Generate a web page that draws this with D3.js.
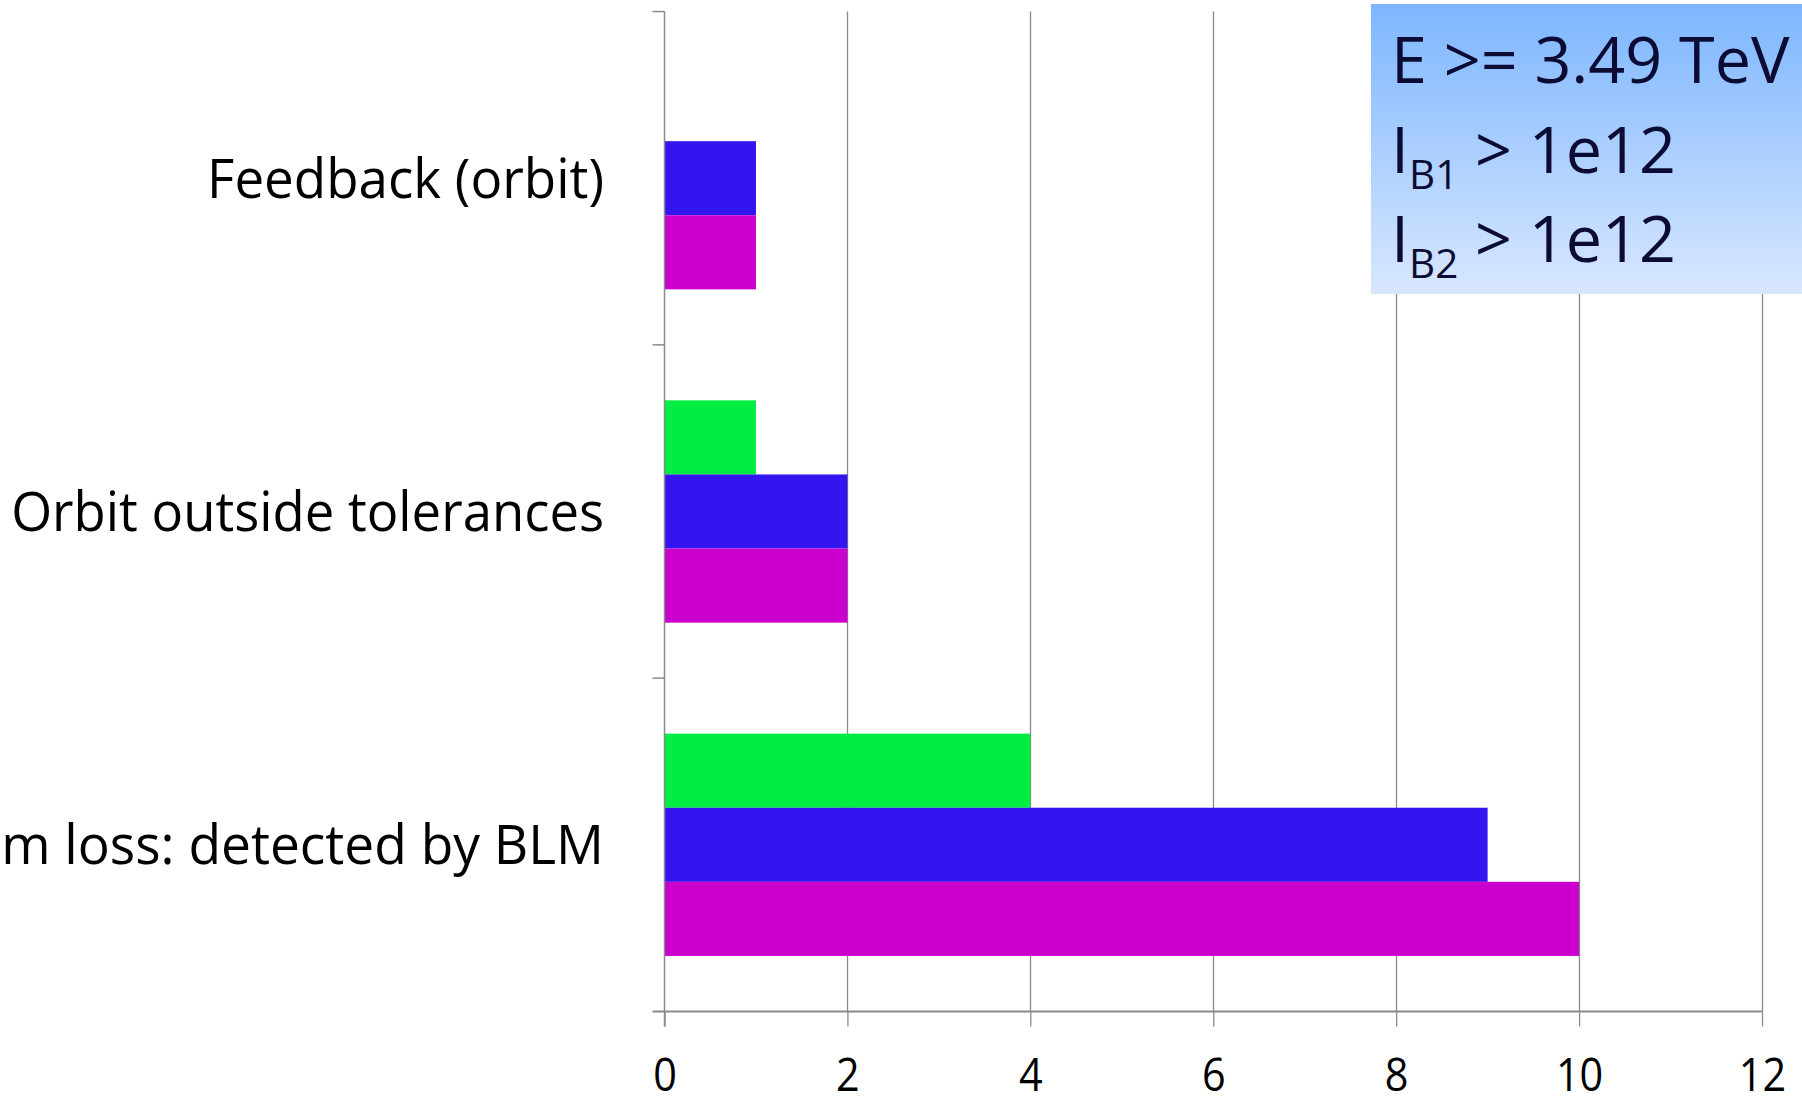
<!DOCTYPE html>
<html><head><meta charset="utf-8">
<script src="https://cdn.jsdelivr.net/npm/d3@7"></script>
<style>html,body{margin:0;padding:0;background:#fff;overflow:hidden}</style>
</head><body>
<svg id="c" width="1802" height="1096"></svg>
<script>
const categories = ["Feedback (orbit)", "Orbit outside tolerances", "Beam loss: detected by BLM"];
const seriesNames = ["S1", "S2", "S3"];
const seriesColors = ["#00EE44", "#3315F0", "#CC00CC"];
const valuesS1 = [0, 1, 4];
const valuesS2 = [1, 2, 9];
const valuesS3 = [1, 2, 10];
const xTicks = [0, 2, 4, 6, 8, 10, 12];
const infoLines = [["E >= 3.49 TeV", ""], ["I", "B1", " > 1e12"], ["I", "B2", " > 1e12"]];

const series = [valuesS1, valuesS2, valuesS3];
const svg = d3.select("#c");
const font = "'Open Sans', sans-serif";
const m = {left: 664.5, right: 1762, top: 11.5, bottom: 1011.5};

const x = d3.scaleLinear().domain([0, 12]).range([m.left, m.right]);
const y = d3.scaleBand().domain(categories).range([m.top, m.bottom]).paddingInner(0.333).paddingOuter(0.1667);
const ySub = d3.scaleBand().domain(seriesNames).range([0, y.bandwidth()]);
const bandStep = y.step();

// grid lines
svg.append("g").selectAll("line").data(xTicks.slice(1)).join("line")
  .attr("x1", d => Math.round(x(d)) + 0.5).attr("x2", d => Math.round(x(d)) + 0.5)
  .attr("y1", m.top).attr("y2", m.bottom)
  .attr("stroke", "#8a8a8a").attr("stroke-width", 1.3);

// bars
categories.forEach((c, i) => {
  const g = svg.append("g").attr("transform", `translate(0,${y(c)})`);
  g.selectAll("rect").data(seriesNames.map((s, j) => ({s, v: series[j][i], col: seriesColors[j]})))
    .join("rect")
    .attr("x", x(0)).attr("y", d => ySub(d.s))
    .attr("width", d => x(d.v) - x(0)).attr("height", ySub.bandwidth())
    .attr("fill", d => d.col);
});

// bottom axis
const xAxis = d3.axisBottom(x).tickValues(xTicks).tickSize(15).tickFormat(d3.format("d"));
const gx = svg.append("g").attr("transform", `translate(0,${m.bottom})`).call(xAxis);
gx.select(".domain").remove();
gx.selectAll(".tick line").attr("stroke", "#8a8a8a").attr("stroke-width", 1.3).attr("y1", 0);
gx.selectAll(".tick text").attr("font-family", font).attr("font-size", 45).attr("fill", "#000")
  .attr("dy", 0).attr("y", 80).attr("transform", "scale(0.92,1)");
svg.append("line").attr("x1", m.left - 12).attr("x2", m.right).attr("y1", m.bottom).attr("y2", m.bottom)
  .attr("stroke", "#8a8a8a").attr("stroke-width", 2);

// left axis
svg.append("line").attr("x1", m.left).attr("x2", m.left).attr("y1", m.top).attr("y2", m.bottom + 15)
  .attr("stroke", "#8a8a8a").attr("stroke-width", 1.5);
const boundaries = categories.map(c => y(c) - (bandStep - y.bandwidth()) / 2);
svg.append("g").selectAll("line").data(boundaries).join("line")
  .attr("x1", m.left - 12).attr("x2", m.left).attr("y1", d => d).attr("y2", d => d)
  .attr("stroke", "#8a8a8a").attr("stroke-width", 1.5);

// category labels (right-aligned, horizontally condensed like the original narrow face)
const labelX = 604;
const targets = [{start: 0, w: 397}, {start: 0, w: 593}, {start: 3, w: 603}];
const lg = svg.append("g");
const labels = lg.selectAll("text").data(categories).join("text")
  .attr("font-family", font).attr("font-size", 55).attr("fill", "#000")
  .attr("text-anchor", "end")
  .attr("x", 0)
  .attr("y", d => y(d) + y.bandwidth() / 2 + 19.5)
  .text(d => d);
labels.each(function(d, i) {
  const n = this.getNumberOfChars();
  const t = targets[i];
  const w = this.getSubStringLength(t.start, n - t.start);
  const sx = t.w / w;
  d3.select(this).attr("transform", `translate(${labelX},0) scale(${sx},1)`);
});

// info box
const defs = svg.append("defs");
const grad = defs.append("linearGradient").attr("id", "bg").attr("x1", 0).attr("y1", 0).attr("x2", 0).attr("y2", 1);
grad.append("stop").attr("offset", 0).attr("stop-color", "#7DB6FF");
grad.append("stop").attr("offset", 1).attr("stop-color", "#D8E7FF");
svg.append("rect").attr("x", 1371).attr("y", 4).attr("width", 431).attr("height", 290).attr("fill", "url(#bg)");
const it = svg.append("g").attr("transform", "translate(1391,0) scale(1.01,1)");
const baselines = [83, 173, 262];
infoLines.forEach((ln, i) => {
  const t = it.append("text").attr("x", 0).attr("y", baselines[i])
    .attr("font-family", font).attr("font-size", 64).attr("fill", "#0B0B33");
  if (i === 0) { t.text(ln[0]); return; }
  t.append("tspan").text(ln[0]);
  t.append("tspan").attr("font-size", 40).attr("dy", 16).text(ln[1]);
  t.append("tspan").attr("dy", -16).text(ln[2]);
});
</script>
</body></html>
